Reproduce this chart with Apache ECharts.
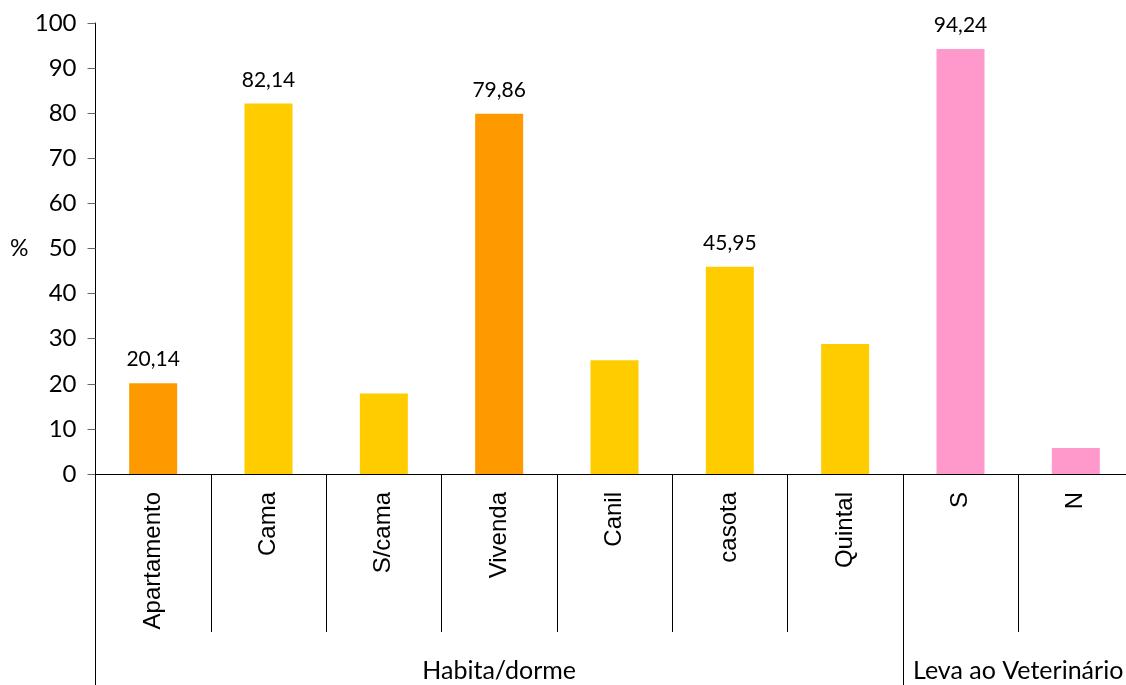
<!DOCTYPE html>
<html>
<head>
<meta charset="utf-8">
<title>Habita/dorme e Leva ao Veterinário</title>
<script src="https://cdn.jsdelivr.net/npm/echarts@6/dist/echarts.min.js"></script>
<style>
  html, body { margin: 0; padding: 0; background: #fff; }
  #chart { width: 1126px; height: 685px; }
</style>
</head>
<body>
<div id="chart"></div>
<script>
// Categories and percentages
var categories = ['Apartamento', 'Cama', 'S/cama', 'Vivenda', 'Canil', 'casota', 'Quintal', 'S', 'N'];
var percentages = [20.14, 82.14, 17.86, 79.86, 25.2, 45.95, 28.85, 94.24, 5.76];
// Only these bars carry a value label
var labelledBars = ['Apartamento', 'Cama', 'Vivenda', 'casota', 'S'];
// Category groups shown on the second label row
var groupNames = ['Habita/dorme', 'Leva ao Veterinário'];
var groupSizes = [7, 2];
// y-axis ticks
var yMin = 0, yMax = 100, yStep = 10;

// Bar colours, one per category
var barColors = ['#FF9900', '#FFCC00', '#FFCC00', '#FF9900', '#FFCC00', '#FFCC00', '#FFCC00', '#FF99CC', '#FF99CC'];

var numFont = 'Lato';
var catFont = 'Liberation Sans';

// group boundaries along the category index scale
var bounds = [0];
groupSizes.forEach(function (n) { bounds.push(bounds[bounds.length - 1] + n); });
// label positions: middle of the first group, boundary between the two categories of the last one
var centers = [bounds[0] + groupSizes[0] / 2, bounds[1] + groupSizes[1] / 2];

function fmt(v) { return v.toFixed(2).replace('.', ','); }

var chart = echarts.init(document.getElementById('chart'), null, { renderer: 'canvas' });
chart.setOption({
  animation: false,
  backgroundColor: '#ffffff',
  grid: { left: 95.5, top: 23, width: 1038, height: 451, outerBoundsMode: 'none' },
  xAxis: [
    {
      type: 'category',
      data: categories,
      boundaryGap: true,
      axisLine: { show: true, lineStyle: { color: '#000', width: 1 } },
      axisTick: { show: true, interval: 0, length: 158, alignWithLabel: false, lineStyle: { color: '#000', width: 1 } },
      axisLabel: {
        interval: 0, rotate: 90, margin: 18,
        fontFamily: catFont, fontSize: 24, color: '#000'
      },
      splitLine: { show: false }
    },
    {
      type: 'value',
      position: 'bottom',
      min: 0, max: categories.length,
      axisLine: { show: false },
      splitLine: { show: false },
      axisTick: { show: true, length: 211, customValues: bounds, lineStyle: { color: '#000', width: 1 } },
      axisLabel: {
        show: true, margin: 184, customValues: centers,
        fontFamily: numFont, fontSize: 25, color: '#000',
        formatter: function (v) {
          var i = centers.indexOf(v);
          return i >= 0 ? groupNames[i] : '';
        }
      }
    }
  ],
  yAxis: {
    type: 'value',
    min: yMin, max: yMax, interval: yStep,
    name: '%',
    nameLocation: 'middle',
    nameRotate: 0,
    nameGap: 67,
    nameTextStyle: { fontFamily: numFont, fontSize: 23, color: '#000' },
    axisLine: { show: true, lineStyle: { color: '#000', width: 1 } },
    axisTick: { show: true, inside: false, length: 8, lineStyle: { color: '#666', width: 1 } },
    axisLabel: { margin: 19, fontFamily: numFont, fontSize: 24, color: '#000' },
    splitLine: { show: false }
  },
  series: [{
    type: 'bar',
    xAxisIndex: 0,
    barWidth: 48,
    data: percentages.map(function (v, i) {
      var show = labelledBars.indexOf(categories[i]) >= 0;
      return {
        value: v,
        itemStyle: { color: barColors[i] },
        label: { show: show }
      };
    }),
    label: {
      position: 'top',
      distance: 13,
      fontFamily: numFont, fontSize: 21, color: '#000',
      formatter: function (p) { return fmt(p.value); }
    }
  }]
});
</script>
</body>
</html>
